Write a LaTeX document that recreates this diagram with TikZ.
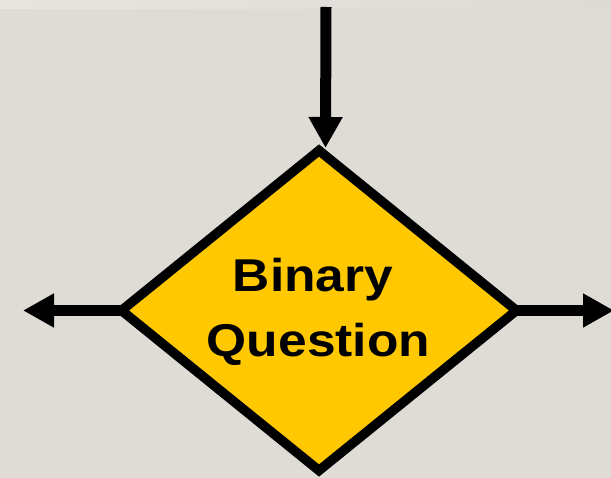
\documentclass[tikz,border=0pt]{standalone}
\usepackage{fontspec}
\newfontfamily\qfont{Liberation Sans}[FakeStretch=1.12]
\usetikzlibrary{shapes.geometric,arrows.meta}
\definecolor{bgcol}{HTML}{DFDCD5}
\definecolor{stripL}{HTML}{E8E5E1}
\definecolor{stripR}{HTML}{DDDAD5}
\definecolor{qyellow}{HTML}{FFC800}
\tikzset{
  decision/.style={shape=diamond, draw=black, fill=qyellow, line width=9.5pt,
    line join=miter, inner sep=0pt, outer sep=0pt,
    minimum width=395pt, minimum height=320pt},
  flow/.style={line width=11pt, -{Triangle[length=31pt,width=32pt]}},
  lbl/.style={font=\qfont\bfseries\fontsize{46pt}{55pt}\selectfont, inner sep=0pt},
}
\begin{document}
\begin{tikzpicture}[x=1pt, y=-1pt]
  % page background with the light band along the top edge
  \fill[bgcol] (0,0) rectangle (611,478);
  \shade[left color=stripL, right color=stripR] (0,0) rectangle (611,9);
  \useasboundingbox (0,0) rectangle (611,478);

  % the decision diamond
  \node[decision] (q) at (319,310.5) {};
  \node[lbl, anchor=base] (l1) at (313,292) {Binary};
  \node[lbl, anchor=base] (l2) at (318.5,357) {Question};

  % incoming and outgoing connectors
  \coordinate (in) at (326,7);
  \coordinate (intip) at (325.5,148);
  \coordinate (lout) at (23,310.5);
  \coordinate (rout) at (614,310.5);
  \draw[flow] (in) -- (intip);
  \draw[flow] (q.west) -- (lout);
  \draw[flow] (q.east) -- (rout);
\end{tikzpicture}
\end{document}
